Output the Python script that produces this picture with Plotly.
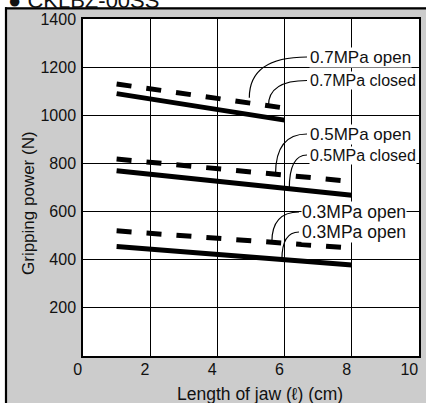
import numpy as np
import plotly.graph_objects as go

# ---- data ----
jaw_short = [1, 6]
jaw_long = [1, 8]
p07_open = [1130, 1030]
p07_closed = [1090, 980]
p05_open = [818, 725]
p05_closed = [770, 668]
p03_open = [520, 448]
p03_closed = [455, 378]

x_ticks = [0, 2, 4, 6, 8, 10]
y_ticks = [200, 400, 600, 800, 1000, 1200, 1400]

labels = ["0.7MPa open", "0.7MPa closed", "0.5MPa open", "0.5MPa closed", "0.3MPa open", "0.3MPa open"]

W, H = 426, 403
L, R, T, B = 83, 7, 19, 47
PW, PH = W - L - R, H - T - B
FONT = "Arial, Liberation Sans, sans-serif"
INK = "#111111"

def px2x(px):
    return (px - L) / PW * 10

def py2y(py):
    return (H - B - py) / PH * 1400

def ppx(px):
    return (px - L) / PW

def ppy(py):
    return (H - B - py) / PH

fig = go.Figure()

series = [
    (jaw_short, p07_open, True),
    (jaw_short, p07_closed, False),
    (jaw_long, p05_open, True),
    (jaw_long, p05_closed, False),
    (jaw_long, p03_open, True),
    (jaw_long, p03_closed, False),
]
for xs, ys, dashed in series:
    fig.add_trace(go.Scatter(
        x=xs, y=ys, mode="lines",
        line=dict(color="black", width=5, dash="15px,15px" if dashed else "solid"),
        showlegend=False, hoverinfo="skip"))

shapes = [
    # white margins outside the grey frame
    dict(type="rect", xref="paper", yref="paper", x0=ppx(-20), x1=ppx(5), y0=ppy(H + 20), y1=ppy(-20),
         fillcolor="white", line=dict(width=0), layer="above"),
    dict(type="rect", xref="paper", yref="paper", x0=ppx(-20), x1=ppx(W + 20), y0=ppy(7.2), y1=ppy(-20),
         fillcolor="white", line=dict(width=0), layer="above"),
    # frame lines
    dict(type="line", xref="paper", yref="paper", x0=ppx(6), x1=ppx(6), y0=ppy(7.2), y1=ppy(H + 20),
         line=dict(color="black", width=2.2), layer="above"),
    dict(type="line", xref="paper", yref="paper", x0=ppx(5), x1=ppx(W + 20), y0=ppy(8.3), y1=ppy(8.3),
         line=dict(color="black", width=2.2), layer="above"),
]

# label positions (pixels), font sizes and leader targets (jaw length on each series)
label_px = [(309, 57), (309, 80.5), (309, 134), (309, 155), (301, 212), (301, 232)]
label_size = [17, 16, 17, 16, 17.5, 17.5]
leader_x = [4.95, 5.52, 5.73, 6.14, 5.62, 5.92]
leader_series = [(jaw_short, p07_open, 22), (jaw_short, p07_open, 0), (jaw_long, p05_open, 0),
                 (jaw_long, p05_closed, 0), (jaw_long, p03_open, 0), (jaw_long, p03_closed, 0)]

annotations = []
for text, (lx, ly), fs, tx, (xs, ys, off) in zip(labels, label_px, label_size, leader_x, leader_series):
    annotations.append(dict(
        x=px2x(lx), y=py2y(ly), xref="x", yref="y", text=text, showarrow=False,
        xanchor="left", yanchor="middle", bgcolor="white", borderpad=0,
        font=dict(family=FONT, size=fs, color=INK)))
    x0, y0 = px2x(lx - 2), py2y(ly)
    y1 = float(np.interp(tx, xs, ys)) + off
    shapes.append(dict(type="path", xref="x", yref="y",
                       path=f"M {x0},{y0} Q {tx},{y0} {tx},{y1}",
                       line=dict(color="black", width=1.2)))

# chart heading (cut off at the top as in the source image)
annotations.append(dict(
    x=ppx(6), y=ppy(0.5), xref="paper", yref="paper", text="● CKLBZ-00SS",
    showarrow=False, xanchor="left", yanchor="middle",
    font=dict(family=FONT, size=22, color=INK)))
# axis titles
annotations.append(dict(
    x=ppx(260), y=ppy(393.5), xref="paper", yref="paper", text="Length of jaw (ℓ) (cm)",
    showarrow=False, xanchor="center", yanchor="middle",
    font=dict(family=FONT, size=17.5, color=INK)))
annotations.append(dict(
    x=ppx(28), y=ppy(203), xref="paper", yref="paper", text="Gripping power (N)",
    showarrow=False, xanchor="center", yanchor="middle", textangle=-90,
    font=dict(family=FONT, size=17, color=INK)))

fig.update_layout(
    width=W, height=H,
    margin=dict(l=L, r=R, t=T, b=B, pad=0, autoexpand=False),
    paper_bgcolor="#cccccc", plot_bgcolor="white",
    font=dict(family=FONT, size=16, color=INK),
    shapes=shapes, annotations=annotations,
    xaxis=dict(range=[0, 10], tickvals=x_ticks, ticks="", showgrid=True, gridcolor="black",
               gridwidth=1.3, zeroline=False, showline=True, mirror=True, linecolor="black",
               linewidth=1.5, automargin=False, ticklabelstandoff=-2,
               ticklabelposition="outside left", ticklabeloverflow="allow",
               tickfont=dict(size=16)),
    yaxis=dict(range=[0, 1400], tickvals=y_ticks, ticks="", showgrid=True, gridcolor="black",
               gridwidth=1.3, zeroline=False, showline=True, mirror=True, linecolor="black",
               linewidth=1.5, automargin=False, ticklabelstandoff=2,
               tickfont=dict(size=16)),
)

fig.write_html("out.html", config={"displayModeBar": False},
               post_script="document.body.style.margin='0';document.body.style.overflow='hidden';")
